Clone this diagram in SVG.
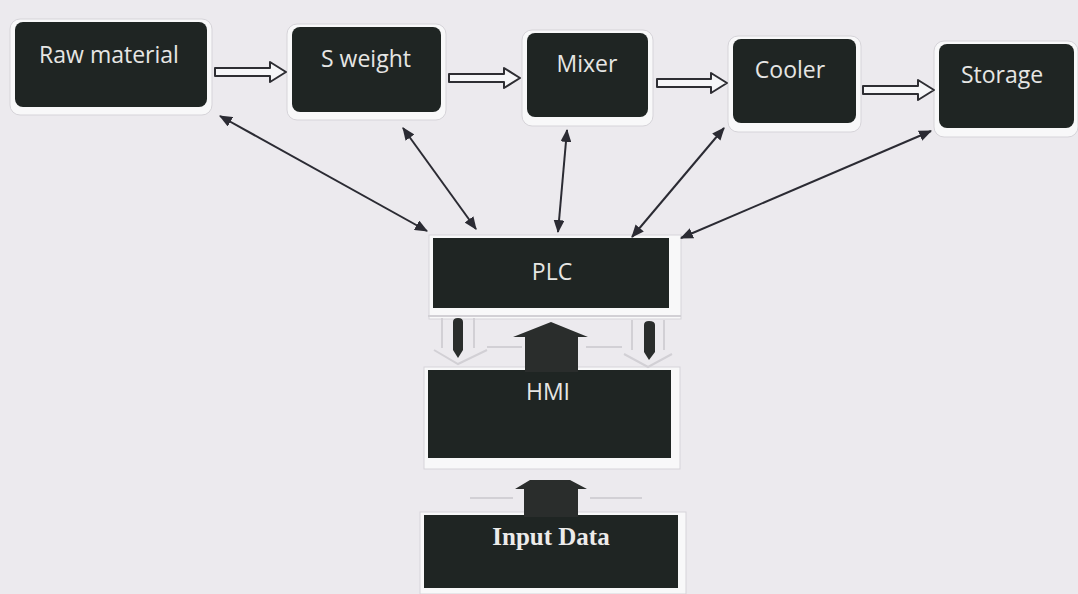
<svg xmlns="http://www.w3.org/2000/svg" width="1078" height="594" viewBox="0 0 1078 594">
  <defs>
    <style>
      .frame { fill: #f8f8f9; stroke: #d6d4d9; stroke-width: 1; }
      .box { fill: #1f2523; }
      .lbl { font-family: "Open Sans", "Noto Sans", sans-serif; font-size: 23px; fill: #e6e6e4; text-anchor: middle; }
      .lblb { font-family: "Liberation Serif", serif; font-size: 25px; font-weight: bold; fill: #ecebea; text-anchor: middle; }
      .link { stroke: #2b2b33; stroke-width: 2; fill: none; marker-start: url(#ah); marker-end: url(#ah); }
      .hollow { fill: #f6f6f8; stroke: #2e2e33; stroke-width: 2; stroke-linejoin: round; }
      .faint { fill: none; stroke: #d2d0d5; stroke-width: 2; }
      .solid { fill: #2a2d2c; }
    </style>
    <marker id="ah" viewBox="0 0 12 10" refX="11" refY="5" markerWidth="6.5" markerHeight="5.5" orient="auto-start-reverse" markerUnits="strokeWidth">
      <path d="M0,0 L12,5 L0,10 Z" fill="#2b2b33"/>
    </marker>
  </defs>
  <rect width="1078" height="594" fill="#eceaee"/>

  <g id="raw-material">
    <rect class="frame" x="10" y="19" width="202" height="96" rx="10"/>
    <rect class="box" x="15" y="22" width="192" height="85" rx="8"/>
    <text class="lbl" x="109" y="63">Raw material</text>
  </g>
  <g id="s-weight">
    <rect class="frame" x="287" y="24" width="159" height="96" rx="10"/>
    <rect class="box" x="292" y="27" width="149" height="85" rx="8"/>
    <text class="lbl" x="366" y="67">S weight</text>
  </g>
  <g id="mixer">
    <rect class="frame" x="522" y="30" width="131" height="96" rx="10"/>
    <rect class="box" x="527" y="33" width="121" height="84" rx="8"/>
    <text class="lbl" x="587" y="72">Mixer</text>
  </g>
  <g id="cooler">
    <rect class="frame" x="728" y="36" width="133" height="96" rx="10"/>
    <rect class="box" x="733" y="39" width="123" height="84" rx="8"/>
    <text class="lbl" x="790" y="78">Cooler</text>
  </g>
  <g id="storage">
    <rect class="frame" x="934" y="41" width="144" height="96" rx="10"/>
    <rect class="box" x="939" y="44" width="135" height="84" rx="8"/>
    <text class="lbl" x="1002" y="83">Storage</text>
  </g>
  <g id="plc">
    <rect class="frame" x="429" y="235" width="252" height="84"/>
    <rect class="box" x="433" y="238" width="236" height="70"/>
    <text class="lbl" x="552" y="280">PLC</text>
  </g>
  <g id="hmi">
    <rect class="frame" x="424" y="367" width="256" height="102"/>
    <rect class="box" x="428" y="370" width="243" height="88"/>
    <text class="lbl" x="548" y="400">HMI</text>
  </g>
  <g id="input-data">
    <rect class="frame" x="420" y="512" width="266" height="82"/>
    <rect class="box" x="424" y="515" width="254" height="73"/>
    <text class="lblb" x="551" y="545">Input Data</text>
  </g>

  <g id="connectors">
    <path class="hollow" d="M215,68 H270 V62 L286,72 L270,82 V76 H215 Z"/>
    <path class="hollow" d="M449,74 H504 V68 L520,78 L504,88 V82 H449 Z"/>
    <path class="hollow" d="M657,79 H711 V73 L727,83 L711,93 V87 H657 Z"/>
    <path class="hollow" d="M863,86 H918 V80 L934,90 L918,100 V94 H863 Z"/>
    <line class="link" x1="220" y1="116" x2="427" y2="231"/>
    <line class="link" x1="403" y1="128" x2="476" y2="229"/>
    <line class="link" x1="567" y1="130" x2="558" y2="232"/>
    <line class="link" x1="724" y1="128" x2="632" y2="237"/>
    <line class="link" x1="931" y1="131" x2="681" y2="238"/>
    <line class="faint" x1="428" y1="316" x2="681" y2="316"/>
    <path class="faint" d="M442,318 V348 M474,318 V348 M434,350 L458,364 L487,350 M487,347 H522"/>
    <path class="faint" d="M632,320 V350 M664,320 V350 M624,354 L648,367 L672,354 M586,347 H622"/>
    <path class="solid" d="M453,322 Q453,318 458,318 Q463,318 463,322 V350 L458,358 L453,350 Z"/>
    <path class="solid" d="M644,325 Q644,321 649,321 Q655,321 655,325 V352 L649,360 L644,352 Z"/>
    <path class="solid" d="M525,372 V337 H513 L551,322 L588,337 H578 V372 Z"/>
    <line class="faint" x1="470" y1="498" x2="513" y2="498"/>
    <line class="faint" x1="590" y1="498" x2="642" y2="498"/>
    <path class="solid" d="M524,517 V489 H515 L530,480 H570 L587,489 H578 V517 Z"/>
  </g>
</svg>
